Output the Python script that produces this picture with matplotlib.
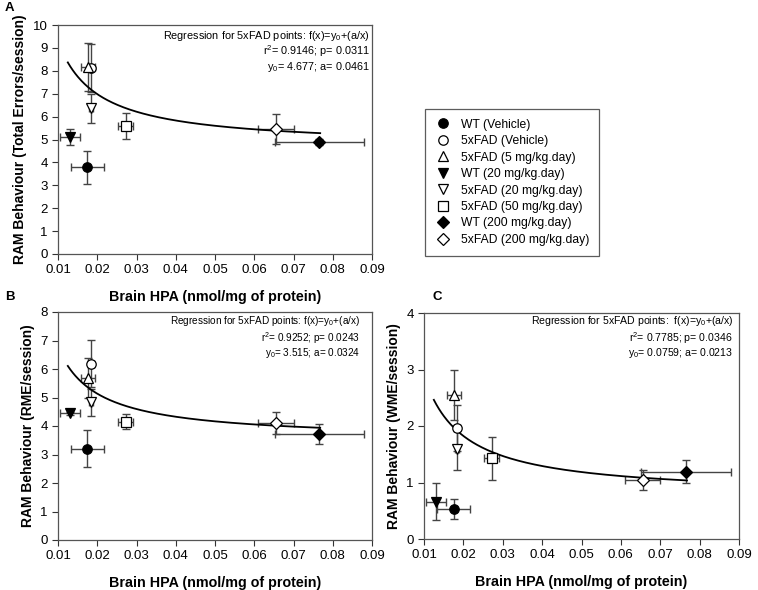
import matplotlib
matplotlib.use("Agg")
import matplotlib.pyplot as plt
import numpy as np

plt.rcParams['font.family'] = ['Liberation Sans', 'DejaVu Sans']
plt.rcParams['mathtext.fontset'] = 'custom'
plt.rcParams['mathtext.rm'] = 'Liberation Sans'
plt.rcParams['mathtext.it'] = 'Liberation Sans'

# ---- data ----
groups = ["WT (Vehicle)", "5xFAD (Vehicle)", "5xFAD (5 mg/kg.day)", "WT (20 mg/kg.day)",
          "5xFAD (20 mg/kg.day)", "5xFAD (50 mg/kg.day)", "WT (200 mg/kg.day)",
          "5xFAD (200 mg/kg.day)"]
hpa = [0.0175, 0.0184, 0.0176, 0.0130, 0.0184, 0.0272, 0.0766, 0.0655]
hpa_err = [0.0043, 0.0007, 0.0018, 0.0025, 0.0005, 0.0019, 0.0114, 0.0045]

total_err = [3.78, 8.12, 8.16, 5.10, 6.36, 5.59, 4.90, 5.47]
total_err_sem = [0.73, 1.05, 1.05, 0.35, 0.63, 0.56, 0.12, 0.65]

rme = [3.20, 6.19, 5.67, 4.44, 4.83, 4.15, 3.71, 4.10]
rme_sem = [0.65, 0.82, 0.70, 0.06, 0.47, 0.27, 0.35, 0.38]

wme = [0.53, 1.96, 2.55, 0.66, 1.59, 1.43, 1.19, 1.04]
wme_sem = [0.17, 0.41, 0.44, 0.33, 0.37, 0.38, 0.20, 0.18]

markers = ['o', 'o', '^', 'v', 'v', 's', 'D', 'D']
filled = [True, False, False, True, False, False, True, False]

# regression curves (y0, a) as drawn
fit_A = (4.677, 0.0461)
fit_B = (3.515, 0.0324)
fit_C = (0.759, 0.0213)
fit_range = (0.0125, 0.0768)

text_A = [r'Regression for 5xFAD points: f(x)=y$_0$+(a/x)', r'r$^2$= 0.9146; p= 0.0311', r'y$_0$= 4.677; a= 0.0461']
text_B = [r'Regression for 5xFAD points: f(x)=y$_0$+(a/x)', r'r$^2$= 0.9252; p= 0.0243', r'y$_0$= 3.515; a= 0.0324']
text_C = [r'Regression for 5xFAD points:  f(x)=y$_0$+(a/x)', r'r$^2$= 0.7785; p= 0.0346', r'y$_0$= 0.0759; a= 0.0213']

W, H = 758, 590
fig = plt.figure(figsize=(W / 100, H / 100), dpi=100)


def px_axes(l, t, r, b):
    return fig.add_axes([l / W, 1 - b / H, (r - l) / W, (b - t) / H])


axA = px_axes(58, 25, 372, 254)
axB = px_axes(58, 312, 372, 540)
axC = px_axes(424, 313, 739, 539)

ecol = '#444444'


def draw(ax, yv, ye, fit, ymax, ylabel, texts, tx, tys, tsize):
    for i in range(len(groups)):
        ax.errorbar(hpa[i], yv[i], xerr=hpa_err[i], yerr=ye[i], fmt='none',
                    ecolor=ecol, elinewidth=1.0, capsize=3, capthick=1.0, zorder=2)
    xs = np.linspace(fit_range[0], fit_range[1], 300)
    ax.plot(xs, fit[0] + fit[1] / xs, color='black', lw=1.3, zorder=3)
    for i in range(len(groups)):
        ms = 6.8 if markers[i] in ('o', 's') else 7.2
        if markers[i] == 'D':
            ms = 6.2
        ax.plot(hpa[i], yv[i], linestyle='none', marker=markers[i], markersize=ms,
                markerfacecolor='black' if filled[i] else 'white',
                markeredgecolor='black', markeredgewidth=0.9, zorder=4, label=groups[i])
    ax.set_xlim(0.01, 0.09)
    ax.set_ylim(0, ymax)
    ax.set_xticks(np.arange(0.01, 0.0901, 0.01))
    ax.set_xticklabels(['%.2f' % v for v in np.arange(0.01, 0.0901, 0.01)])
    ax.set_yticks(range(0, ymax + 1))
    ax.tick_params(direction='out', length=4, width=0.8, labelsize=9.5, colors='#333333',
                   labelcolor='black')
    for s in ax.spines.values():
        s.set_color('#555555')
        s.set_linewidth(0.9)
    ax.set_xlabel('Brain HPA (nmol/mg of protein)', fontsize=10.3, fontweight='bold', labelpad=10)
    ax.set_ylabel(ylabel, fontsize=10.0, fontweight='bold', labelpad=4)
    for t, ty in zip(texts, tys):
        ax.text(tx, ty, t, transform=ax.transAxes, ha='right', va='center', fontsize=tsize)


draw(axA, total_err, total_err_sem, fit_A, 10, 'RAM Behaviour (Total Errors/session)',
     text_A, 0.994, [0.952, 0.884, 0.818], 7.8)
draw(axB, rme, rme_sem, fit_B, 8, 'RAM Behaviour (RME/session)',
     text_B, 0.962, [0.959, 0.885, 0.820], 7.2)
draw(axC, wme, wme_sem, fit_C, 4, 'RAM Behaviour (WME/session)',
     text_C, 0.981, [0.965, 0.889, 0.824], 7.6)

fig.text(5 / W, 1 - 8 / H, 'A', fontsize=9.5, fontweight='bold', va='center')
fig.text(5 / W, 1 - 297 / H, 'B', fontsize=9.5, fontweight='bold', va='center')
fig.text(432 / W, 1 - 297 / H, 'C', fontsize=9.5, fontweight='bold', va='center')

handles, labels = axA.get_legend_handles_labels()
leg = fig.legend(handles, labels, loc='upper left', bbox_to_anchor=(425 / W, 1 - 109 / H),
                 frameon=True, fancybox=False, edgecolor='#333333', fontsize=8.7,
                 handlelength=1.3, handletextpad=0.9, labelspacing=0.37,
                 borderpad=0.8, borderaxespad=0)
leg.get_frame().set_linewidth(0.9)

fig.savefig('out.png', dpi=100)
